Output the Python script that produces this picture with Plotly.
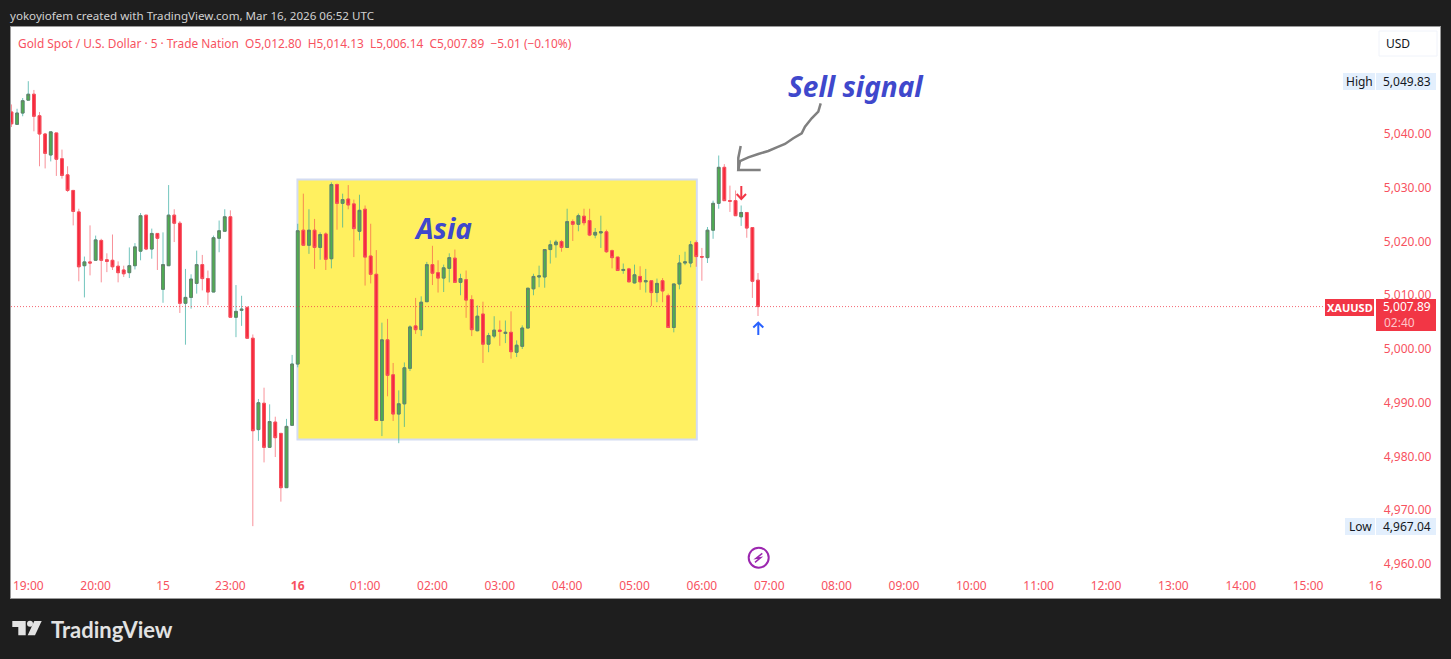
import plotly.graph_objects as go

# bar number 0 is the 19:00 candle, chart starts three bars earlier
first_bar = -3

opens = [
    5044.1, 5041.8, 5043.9, 5046.3, 5047.4, 5043.4, 5040.0, 5036.1, 5040.2, 5035.4,
    5032.4, 5029.5, 5025.5, 5015.5, 5016.2, 5016.5, 5020.2, 5016.6, 5016.5, 5015.4,
    5014.7, 5014.2, 5015.5, 5018.2, 5024.9, 5018.6, 5021.5, 5011.1, 5015.5, 5024.9,
    5023.4, 5008.5, 5009.6, 5012.2, 5015.7, 5013.1, 5010.6, 5020.6, 5021.9, 5024.6,
    5005.9, 5007.2, 5007.7, 5002.0, 4985.0, 4989.9, 4981.7, 4986.4, 4984.3, 4974.2,
    4985.8, 4997.2, 5022.1, 5019.3, 5022.1, 5018.9, 5021.4, 5016.8, 5030.6, 5027.1,
    5027.9, 5027.0, 5021.9, 5026.0, 5017.3, 5013.9, 4986.7, 5001.7, 4995.2, 4987.9,
    4989.8, 4996.4, 5004.3, 5003.6, 5008.8, 5015.7, 5014.2, 5013.2, 5015.0, 5016.9,
    5012.4, 5012.9, 5009.2, 5003.4, 5006.5, 5000.9, 5002.4, 5003.5, 5002.9, 5003.1,
    4999.4, 5000.5, 5003.9, 5011.2, 5013.4, 5013.4, 5018.5, 5019.4, 5020.0, 5018.9,
    5023.7, 5023.2, 5024.7, 5023.9, 5021.2, 5021.6, 5021.8, 5018.3, 5017.1, 5014.6,
    5014.9, 5012.3, 5013.5, 5012.5, 5012.7, 5010.5, 5012.7, 5009.9, 5004.0, 5012.1,
    5016.0, 5016.0, 5019.8, 5017.2, 5017.0, 5022.1, 5027.1, 5033.8, 5027.6, 5027.6,
    5024.6, 5025.4, 5022.6, 5012.80,
]
highs = [
    5045.5, 5044.7, 5046.7, 5049.83, 5048.2, 5044.1, 5040.2, 5040.4, 5040.2, 5037.1,
    5034.0, 5029.6, 5026.1, 5017.2, 5023.0, 5021.1, 5020.5, 5017.8, 5021.3, 5016.3,
    5015.5, 5018.9, 5019.7, 5025.3, 5024.9, 5022.4, 5021.5, 5021.7, 5030.5, 5026.0,
    5023.8, 5014.9, 5013.9, 5018.3, 5017.5, 5014.6, 5021.1, 5023.9, 5026.0, 5025.8,
    5011.9, 5009.9, 5008.0, 5002.7, 4990.7, 4992.8, 4989.7, 4987.4, 4984.3, 4987.0,
    4998.9, 5023.3, 5028.9, 5026.0, 5024.2, 5021.7, 5021.7, 5031.0, 5030.8, 5028.9,
    5030.5, 5027.8, 5028.7, 5026.7, 5023.3, 5018.4, 5004.9, 5005.6, 4997.4, 4992.3,
    4997.5, 5004.4, 5009.5, 5009.8, 5016.2, 5019.2, 5016.5, 5015.7, 5017.8, 5018.5,
    5014.0, 5014.6, 5010.0, 5008.1, 5008.8, 5003.0, 5006.1, 5005.3, 5005.3, 5007.0,
    5001.6, 5004.4, 5011.4, 5014.0, 5015.5, 5018.6, 5020.2, 5020.3, 5020.3, 5026.1,
    5024.1, 5025.2, 5026.1, 5026.1, 5022.5, 5024.8, 5022.2, 5018.5, 5017.1, 5015.9,
    5015.1, 5015.7, 5015.4, 5014.9, 5012.7, 5013.1, 5013.2, 5010.3, 5012.1, 5017.5,
    5018.1, 5020.1, 5020.2, 5018.8, 5022.7, 5027.6, 5036.0, 5034.4, 5030.4, 5029.5,
    5026.7, 5025.4, 5022.6, 5014.13,
]
lows = [
    5041.3, 5041.7, 5043.3, 5046.3, 5040.5, 5034.0, 5033.6, 5034.9, 5032.2, 5031.7,
    5029.2, 5023.0, 5012.6, 5009.6, 5013.7, 5016.5, 5012.4, 5014.3, 5014.7, 5012.4,
    5013.4, 5013.2, 5014.8, 5016.5, 5018.4, 5016.8, 5014.7, 5008.6, 5015.5, 5019.9,
    5006.7, 5000.8, 5007.5, 5010.3, 5010.9, 5008.2, 5010.6, 5018.0, 5021.9, 5005.9,
    5002.2, 5004.3, 5001.9, 4967.04, 4982.9, 4978.9, 4981.7, 4979.9, 4971.6, 4974.2,
    4985.8, 4996.6, 5019.2, 5017.7, 5014.9, 5016.6, 5014.7, 5015.0, 5022.2, 5022.6,
    5026.0, 5017.1, 5020.2, 5011.8, 5012.2, 4986.7, 4983.8, 4991.2, 4986.6, 4982.48,
    4985.5, 4995.9, 5002.8, 5002.4, 5008.8, 5011.9, 5010.5, 5010.6, 5012.4, 5012.4,
    5010.0, 5005.8, 5002.4, 5003.3, 4997.4, 4999.4, 5002.0, 5000.6, 5001.1, 4998.2,
    4998.5, 5000.0, 5003.9, 5010.0, 5011.5, 5011.4, 5015.9, 5017.0, 5018.1, 5018.9,
    5020.1, 5021.9, 5023.0, 5021.0, 5020.6, 5018.8, 5017.9, 5015.0, 5014.6, 5014.0,
    5012.4, 5012.2, 5011.0, 5010.5, 5008.0, 5008.7, 5008.7, 5004.0, 5003.1, 5011.1,
    5015.6, 5015.2, 5015.3, 5012.7, 5016.0, 5020.5, 5026.1, 5027.6, 5025.5, 5024.8,
    5022.9, 5020.7, 5009.5, 5006.14,
]
closes = [
    5041.9, 5043.9, 5046.2, 5047.4, 5043.3, 5040.0, 5036.4, 5040.4, 5035.3, 5032.3,
    5029.5, 5025.6, 5015.3, 5016.2, 5016.0, 5020.3, 5016.5, 5016.3, 5015.3, 5014.2,
    5014.0, 5015.5, 5019.0, 5024.8, 5018.6, 5021.5, 5020.6, 5015.7, 5024.9, 5023.4,
    5008.5, 5009.6, 5013.0, 5015.7, 5013.1, 5010.6, 5020.7, 5022.0, 5024.6, 5005.9,
    5007.0, 5007.4, 5002.0, 4984.8, 4990.0, 4981.7, 4986.5, 4983.5, 4974.2, 4985.6,
    4997.2, 5022.0, 5019.3, 5022.1, 5018.9, 5021.3, 5016.7, 5030.6, 5027.1, 5027.8,
    5026.8, 5022.4, 5025.8, 5017.1, 5013.9, 4986.7, 5001.7, 4995.1, 4987.9, 4989.8,
    4996.5, 5004.1, 5003.6, 5008.7, 5015.7, 5014.1, 5013.2, 5015.1, 5017.0, 5012.4,
    5013.1, 5009.1, 5003.6, 5006.1, 5000.9, 5002.5, 5003.5, 5003.3, 5003.1, 4999.5,
    5000.7, 5003.9, 5011.3, 5013.5, 5013.6, 5018.5, 5019.4, 5019.9, 5018.9, 5023.7,
    5023.2, 5024.8, 5023.5, 5021.2, 5021.7, 5021.8, 5018.1, 5017.0, 5014.6, 5014.8,
    5012.5, 5013.8, 5012.5, 5012.7, 5010.5, 5012.2, 5010.8, 5004.0, 5012.1, 5016.0,
    5016.2, 5019.4, 5017.2, 5017.1, 5022.1, 5027.1, 5033.8, 5027.6, 5027.5, 5024.8,
    5025.4, 5022.5, 5012.6, 5007.89,
]

tick_bars = list(range(0, 241, 12))
tick_labels = ["19:00", "20:00", "15", "23:00", "<b>16</b>", "01:00", "02:00", "03:00", "04:00",
               "05:00", "06:00", "07:00", "08:00", "09:00", "10:00", "11:00", "12:00", "13:00",
               "14:00", "15:00", "16"]
price_ticks = [4960, 4970, 4980, 4990, 5000, 5010, 5020, 5030, 5040]

last_price = 5007.89
session_low = 4967.04
session_high = 5049.83

RED = "#f23645"
LABEL_RED = "#f7525f"
DARK = "#1e1e1e"
BLUE_TEXT = "#3f48cc"
TV_FONT = "Noto Sans"

W, H = 1451, 659
L, R, T, B = 11, 1440, 27, 598

bars = list(range(first_bar, first_bar + len(opens)))
body_high = [max(o, c) for o, c in zip(opens, closes)]
body_low = [min(o, c) for o, c in zip(opens, closes)]


# page pixel -> paper fraction, for the drawings and labels around the chart
def px(x):
    return (x - L) / (R - L)


def py(y):
    return (B - y) / (B - T)


def path(points, close=False):
    d = "M" + " L".join(f"{px(x):.5f},{py(y):.5f}" for x, y in points)
    return d + (" Z" if close else "")


def box(x0, y0, x1, y1, fill, line=None, layer="above"):
    return dict(type="rect", xref="paper", yref="paper", x0=px(x0), x1=px(x1), y0=py(y1), y1=py(y0),
                fillcolor=fill, line=dict(color=line or fill, width=1 if line else 0), layer=layer)


def stroke(points, color, width=2):
    return dict(type="path", xref="paper", yref="paper", path=path(points),
                line=dict(color=color, width=width), layer="above")


def label(x, y, text, color, size=12, anchor="left", bold=False, italic=False, family=TV_FONT):
    if bold:
        text = f"<b>{text}</b>"
    if italic:
        text = f"<i>{text}</i>"
    return dict(xref="paper", yref="paper", x=px(x), y=py(y), text=text, showarrow=False,
                xanchor=anchor, yanchor="middle", borderpad=0, borderwidth=0,
                font=dict(color=color, size=size, family=family))


fig = go.Figure()

# wicks first, semi transparent like the original
fig.add_trace(go.Candlestick(
    x=bars, open=opens, high=highs, low=lows, close=closes, whiskerwidth=0, hoverinfo="skip",
    increasing=dict(line=dict(color="rgba(38,166,154,0.65)", width=1), fillcolor="rgba(0,0,0,0)"),
    decreasing=dict(line=dict(color="rgba(242,54,69,0.55)", width=1), fillcolor="rgba(0,0,0,0)"),
    showlegend=False))
# bodies on top, the green ones have a grey outline
fig.add_trace(go.Candlestick(
    x=bars, open=opens, high=body_high, low=body_low, close=closes, whiskerwidth=0,
    increasing=dict(line=dict(color="#66806a", width=1), fillcolor="#4caf50"),
    decreasing=dict(line=dict(color="#f5505d", width=1), fillcolor="#f7283c"),
    showlegend=False))

shapes = [
    # Asia box
    dict(type="rect", xref="x", yref="y", x0=47.95, x1=119.1, y0=4983.16, y1=5031.53,
         fillcolor="#fff05f", line=dict(color="#d3dcf2", width=2), layer="below"),
    # last price line
    dict(type="line", xref="paper", yref="y", x0=0, x1=px(1325), y0=last_price, y1=last_price,
         line=dict(color="rgba(242,54,69,0.75)", width=1, dash="1px,2px"), layer="above"),
    # hand drawn arrow to the sell candle
    stroke([(820.7, 103.3), (818.3, 111.7), (811.7, 118.3), (805, 126.7), (801.7, 133.3), (793.3, 138.3),
            (785, 144), (776.7, 147.3), (768.3, 151), (758.3, 154), (748.3, 157.3), (740, 161),
            (738.3, 170), (760.7, 170)], "#808080", 2.5),
    stroke([(738.3, 170), (738.3, 158), (740.7, 146)], "#808080", 2.5),
    # signal arrows
    stroke([(741.3, 186), (741.3, 198.5)], RED),
    stroke([(736.7, 194), (741.3, 199), (746, 194)], RED),
    stroke([(758.3, 335), (758.3, 323)], "#2962ff"),
    stroke([(753.3, 327.5), (758.3, 322.7), (763.3, 327.5)], "#2962ff"),
    # lightning marker
    dict(type="circle", xref="paper", yref="paper", x0=px(748.7), x1=px(768.7), y0=py(567.7), y1=py(547.7),
         line=dict(color="#9c27b0", width=2), fillcolor="white", layer="above"),
    stroke([(762.3, 553.3), (756, 558.3), (760.7, 557.7), (755, 562.3)], "#9c27b0", 1.5),
    # usd button and axis labels
    dict(type="rect", xref="paper", yref="paper", x0=px(1379), x1=px(1437), y0=py(56), y1=py(31),
         fillcolor="white", line=dict(color="#f0f3fa", width=1), layer="above"),
    box(1343, 73, 1375, 90, "#e3effd"),
    box(1376, 73, 1436, 90, "#e3effd"),
    box(1345, 518, 1375, 535, "#e3effd"),
    box(1376, 518, 1436, 535, "#e3effd"),
    box(1325, 299, 1374, 316, RED),
    box(1376, 299, 1436, 331, RED),
    # tradingview logo
    dict(type="path", xref="paper", yref="paper", fillcolor="#e2e2e2", line=dict(width=0), layer="above",
         path=path([(12.3, 621), (25.7, 621), (25.7, 635.3), (18.3, 635.3), (18.3, 627), (12.3, 627)], True)),
    dict(type="circle", xref="paper", yref="paper", fillcolor="#e2e2e2", line=dict(width=0), layer="above",
         x0=px(27), x1=px(33), y0=py(626.7), y1=py(620.7)),
    dict(type="path", xref="paper", yref="paper", fillcolor="#e2e2e2", line=dict(width=0), layer="above",
         path=path([(34.3, 621), (41.7, 621), (35, 635.3), (27.7, 635.3)], True)),
]

annotations = [
    label(10, 15, "yokoyiofem created with TradingView.com, Mar 16, 2026 06:52 UTC", "#d1d1d1", size=11.6),
    label(18, 43, "Gold Spot / U.S. Dollar · 5 · Trade Nation&nbsp;&nbsp;O5,012.80&nbsp;&nbsp;H5,014.13&nbsp;&nbsp;"
                  "L5,006.14&nbsp;&nbsp;C5,007.89&nbsp;&nbsp;−5.01 (−0.10%)", LABEL_RED, size=11.9),
    label(1398, 43.5, "USD", "#131722", anchor="center"),
    label(1359, 81.5, "High", "#131722", anchor="center"),
    label(1431, 81.5, f"{session_high:,.2f}", "#131722", anchor="right"),
    label(1360, 526.5, "Low", "#131722", anchor="center"),
    label(1431, 526.5, f"{session_low:,.2f}", "#131722", anchor="right"),
    label(1349.5, 307.5, "XAUUSD", "white", size=11, anchor="center", bold=True),
    label(1431, 307, f"{last_price:,.2f}", "white", anchor="right"),
    label(1384, 322, "02:40", "#ffc4c9"),
    label(856, 86, "Sell signal", BLUE_TEXT, size=28, anchor="center", bold=True, italic=True),
    label(442.5, 228, "Asia", BLUE_TEXT, size=28, anchor="center", bold=True, italic=True),
    label(51, 629, "TradingView", "#e2e2e2", size=22, bold=True, family="Lato"),
]

fig.update_layout(
    width=W, height=H,
    margin=dict(l=L, r=W - R, t=T, b=H - B, pad=0),
    paper_bgcolor=DARK, plot_bgcolor="white",
    font=dict(family=TV_FONT, size=12, color=LABEL_RED),
    shapes=shapes, annotations=annotations,
    hovermode=False,
    xaxis=dict(type="linear", range=[-3.08, 251.5], rangeslider=dict(visible=False),
               tickmode="array", tickvals=tick_bars, ticktext=tick_labels,
               ticklabelposition="inside", ticklabelstandoff=5, ticklen=0, showgrid=False, zeroline=False,
               tickfont=dict(color=LABEL_RED, size=12),
               showline=True, mirror=True, linecolor="#9a9a9a", linewidth=1),
    yaxis=dict(side="right", range=[4953.67, 5059.91], tickmode="array", tickvals=price_ticks,
               tickformat=",.2f", ticklabelposition="inside", ticklabelstandoff=8, ticklen=0,
               showgrid=False, zeroline=False,
               tickfont=dict(color=LABEL_RED, size=12),
               showline=True, mirror=True, linecolor="#9a9a9a", linewidth=1),
)

fig.write_html("out.html", config=dict(displayModeBar=False),
               post_script="document.body.style.margin='0';document.body.style.background='#1e1e1e';")
